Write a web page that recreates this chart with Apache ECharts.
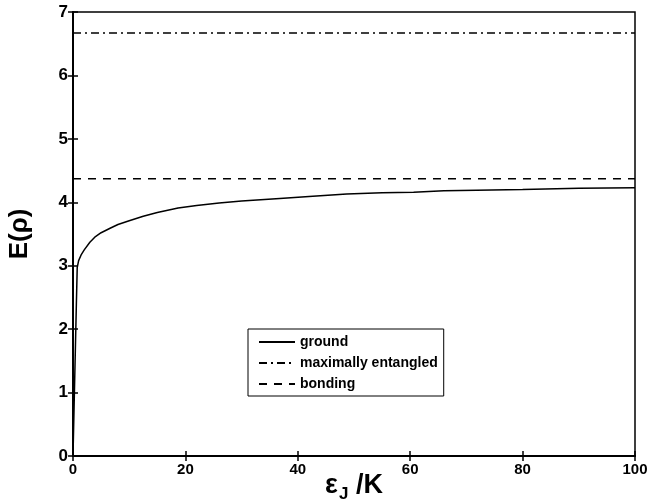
<!DOCTYPE html>
<html><head><meta charset="utf-8">
<script src="https://cdn.jsdelivr.net/npm/echarts@6/dist/echarts.min.js"></script>
<style>html,body{margin:0;padding:0;background:#fff}#c{width:649px;height:503px}</style>
</head><body><div id="c"></div>
<script>
const groundX = [0,0.2,0.4,0.6,0.75,1,1.5,2,3,4,5,6.6,8,10,12.5,15,18.7,22,26,30,36.8,42,48.7,55,60.6,66,71.8,80,90,100];
const groundY = [0,0.8,1.6,2.4,2.97,3.08,3.18,3.25,3.37,3.46,3.52,3.59,3.65,3.71,3.78,3.84,3.91,3.95,3.99,4.02,4.06,4.09,4.13,4.15,4.16,4.18,4.19,4.20,4.22,4.23];
const maxEntangled = 6.667;
const bonding = 4.37;
const xTicks = [0,20,40,60,80,100];
const yTicks = [0,1,2,3,4,5,6,7];
const seriesNames = ['ground','maximally entangled','bonding'];

const chart = echarts.init(document.getElementById('c'));
const F = 'Liberation Sans, Arial, Helvetica, sans-serif';
const tickStyle = {show:true, inside:true, length:5, lineStyle:{color:'#000', width:1.5}};
chart.setOption({
  animation:false,
  backgroundColor:'#fff',
  grid:{left:73, right:14, top:12, bottom:47, outerBoundsMode:'none', containLabel:false, show:true, borderColor:'#000', borderWidth:1.5, backgroundColor:'transparent'},
  xAxis:[{type:'value', min:0, max:100, interval:20, position:'bottom',
    axisLine:{show:true, lineStyle:{color:'#000', width:2}}, axisTick:tickStyle, splitLine:{show:false},
    axisLabel:{color:'#000', fontFamily:F, fontWeight:'bold', fontSize:15, margin:6},
    name:'{a|ε}{b|J}{a| /K}', nameLocation:'middle', nameGap:12, nameMoveOverlap:false,
    nameTextStyle:{rich:{a:{fontFamily:F, fontWeight:'bold', fontSize:27, color:'#000'}, b:{fontFamily:F, fontWeight:'bold', fontSize:17, color:'#000', padding:[18,0,0,1]}}}
  },{type:'value', min:0, max:100, interval:20, position:'top',
    axisLine:{show:true, lineStyle:{color:'#000', width:1.5}}, axisTick:tickStyle, axisLabel:{show:false}, splitLine:{show:false}}],
  yAxis:[{type:'value', min:0, max:7, interval:1, position:'left',
    axisLine:{show:true, lineStyle:{color:'#000', width:2}}, axisTick:tickStyle, splitLine:{show:false},
    axisLabel:{color:'#000', fontFamily:F, fontWeight:'bold', fontSize:17, margin:5},
    name:'E(ρ)', nameLocation:'middle', nameGap:40, nameRotate:90, nameMoveOverlap:false,
    nameTextStyle:{fontFamily:F, fontWeight:'bold', fontSize:26, color:'#000'}
  },{type:'value', min:0, max:7, interval:1, position:'right',
    axisLine:{show:true, lineStyle:{color:'#000', width:1.5}}, axisTick:tickStyle, axisLabel:{show:false}, splitLine:{show:false}}],
  legend:{orient:'vertical', left:248, top:329, width:192,
    data:seriesNames,
    backgroundColor:'#fff', borderColor:'#000', borderWidth:1, padding:[6,6,5,10],
    itemWidth:36, itemHeight:14, itemGap:7,
    itemStyle:{color:'transparent', borderColor:'transparent', borderWidth:0, opacity:0},
    textStyle:{fontFamily:F, fontWeight:'bold', fontSize:14, color:'#000'}},
  series:[
    {name:seriesNames[0], type:'line', symbol:'none', data:groundX.map((x,i)=>[x,groundY[i]]),
      lineStyle:{color:'#000', width:1.5}, itemStyle:{color:'#000'}},
    {name:seriesNames[1], type:'line', symbol:'none', data:[[0,maxEntangled],[100,maxEntangled]],
      lineStyle:{color:'#000', width:1.5, type:[8,4,2,4]}, itemStyle:{color:'#000'}},
    {name:seriesNames[2], type:'line', symbol:'none', data:[[0,bonding],[100,bonding]],
      lineStyle:{color:'#000', width:1.5, type:[8,7]}, itemStyle:{color:'#000'}}
  ]
});
</script></body></html>
